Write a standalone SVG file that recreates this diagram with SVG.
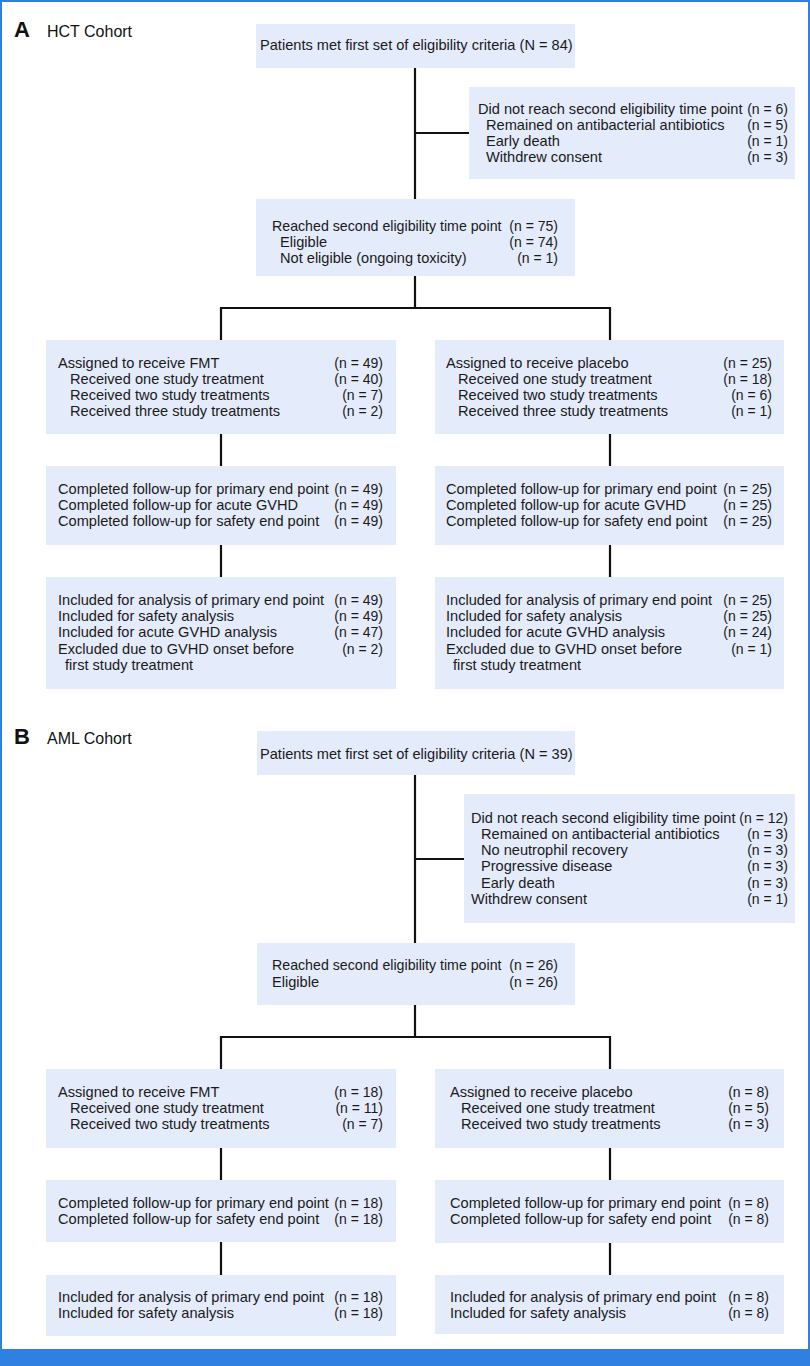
<svg xmlns="http://www.w3.org/2000/svg" width="810" height="1366" viewBox="0 0 810 1366">
<style>
.bg{fill:#ffffff}
.box{fill:#e4ebfa}
.t{font-family:"Liberation Sans",Arial,sans-serif;font-size:14.6px;fill:#1a1a1a}
.s{font-size:14.2px}
.r{text-anchor:end;font-size:14px}
.pl{font-family:"Liberation Sans",Arial,sans-serif;font-size:22px;font-weight:bold;fill:#111}
.pt{font-family:"Liberation Sans",Arial,sans-serif;font-size:16px;fill:#111}
.c{stroke:#111;stroke-width:2.2;fill:none}
</style>
<rect class="bg" x="0" y="0" width="810" height="1366"/>
<rect x="1" y="1" width="808" height="1350" fill="none" stroke="#2f80e0" stroke-width="2"/>
<rect x="0" y="1349" width="810" height="17" fill="#2f80e0"/>

<g id="panelA-label"><text class="pl" x="14" y="37">A</text><text class="pt" x="47" y="37">HCT Cohort</text></g>
<g id="panelB-label"><text class="pl" x="14" y="744">B</text><text class="pt" x="47" y="744">AML Cohort</text></g>

<g id="connectors">
<path class="c" d="M415 68V199M415 133H469M415 276V308M221 340V308H610V340M221 434V466M610 434V466M221 545V577M610 545V577"/>
<path class="c" d="M415 775V943M415 859H464M415 1005V1037M221 1069V1037H610V1069M221 1148V1180M610 1148V1180M221 1242V1275M610 1242V1275"/>
</g>

<g id="a-start"><rect class="box" x="256" y="24" width="319" height="44"/>
<text class="t" x="260" y="50">Patients met first set of eligibility criteria (N = 84)</text></g>

<g id="a-excluded"><rect class="box" x="469" y="87" width="326" height="92"/>
<text class="t" x="478" y="113.5">Did not reach second eligibility time point</text><text class="t r" x="788" y="113.5">(n = 6)</text>
<text class="t" x="486" y="129.5">Remained on antibacterial antibiotics</text><text class="t r" x="788" y="129.5">(n = 5)</text>
<text class="t" x="486" y="145.5">Early death</text><text class="t r" x="788" y="145.5">(n = 1)</text>
<text class="t" x="486" y="161.5">Withdrew consent</text><text class="t r" x="788" y="161.5">(n = 3)</text></g>

<g id="a-reached"><rect class="box" x="256" y="199" width="319" height="77"/>
<text class="t s" x="272" y="231">Reached second eligibility time point</text><text class="t r" x="558" y="231">(n = 75)</text>
<text class="t" x="280" y="247">Eligible</text><text class="t r" x="558" y="247">(n = 74)</text>
<text class="t" x="280" y="263">Not eligible (ongoing toxicity)</text><text class="t r" x="558" y="263">(n = 1)</text></g>

<g id="a-fmt"><rect class="box" x="46" y="340" width="350" height="94"/>
<text class="t" x="58" y="368">Assigned to receive FMT</text><text class="t r" x="383" y="368">(n = 49)</text>
<text class="t" x="70" y="384">Received one study treatment</text><text class="t r" x="383" y="384">(n = 40)</text>
<text class="t" x="70" y="400">Received two study treatments</text><text class="t r" x="383" y="400">(n = 7)</text>
<text class="t" x="70" y="416">Received three study treatments</text><text class="t r" x="383" y="416">(n = 2)</text></g>

<g id="a-placebo"><rect class="box" x="435" y="340" width="349" height="94"/>
<text class="t" x="446" y="368">Assigned to receive placebo</text><text class="t r" x="772" y="368">(n = 25)</text>
<text class="t" x="458" y="384">Received one study treatment</text><text class="t r" x="772" y="384">(n = 18)</text>
<text class="t" x="458" y="400">Received two study treatments</text><text class="t r" x="772" y="400">(n = 6)</text>
<text class="t" x="458" y="416">Received three study treatments</text><text class="t r" x="772" y="416">(n = 1)</text></g>

<g id="a-fmt-followup"><rect class="box" x="46" y="466" width="350" height="79"/>
<text class="t" x="58" y="494">Completed follow-up for primary end point</text><text class="t r" x="383" y="494">(n = 49)</text>
<text class="t" x="58" y="510">Completed follow-up for acute GVHD</text><text class="t r" x="383" y="510">(n = 49)</text>
<text class="t" x="58" y="526">Completed follow-up for safety end point</text><text class="t r" x="383" y="526">(n = 49)</text></g>

<g id="a-placebo-followup"><rect class="box" x="435" y="466" width="349" height="79"/>
<text class="t" x="446" y="494">Completed follow-up for primary end point</text><text class="t r" x="772" y="494">(n = 25)</text>
<text class="t" x="446" y="510">Completed follow-up for acute GVHD</text><text class="t r" x="772" y="510">(n = 25)</text>
<text class="t" x="446" y="526">Completed follow-up for safety end point</text><text class="t r" x="772" y="526">(n = 25)</text></g>

<g id="a-fmt-analysis"><rect class="box" x="46" y="577" width="350" height="112"/>
<text class="t" x="58" y="605">Included for analysis of primary end point</text><text class="t r" x="383" y="605">(n = 49)</text>
<text class="t" x="58" y="621">Included for safety analysis</text><text class="t r" x="383" y="621">(n = 49)</text>
<text class="t" x="58" y="637">Included for acute GVHD analysis</text><text class="t r" x="383" y="637">(n = 47)</text>
<text class="t" x="58" y="654">Excluded due to GVHD onset before</text><text class="t r" x="383" y="654">(n = 2)</text>
<text class="t" x="65" y="670">first study treatment</text></g>

<g id="a-placebo-analysis"><rect class="box" x="435" y="577" width="349" height="112"/>
<text class="t" x="446" y="605">Included for analysis of primary end point</text><text class="t r" x="772" y="605">(n = 25)</text>
<text class="t" x="446" y="621">Included for safety analysis</text><text class="t r" x="772" y="621">(n = 25)</text>
<text class="t" x="446" y="637">Included for acute GVHD analysis</text><text class="t r" x="772" y="637">(n = 24)</text>
<text class="t" x="446" y="654">Excluded due to GVHD onset before</text><text class="t r" x="772" y="654">(n = 1)</text>
<text class="t" x="453" y="670">first study treatment</text></g>

<g id="b-start"><rect class="box" x="257" y="731" width="318" height="44"/>
<text class="t" x="260" y="759">Patients met first set of eligibility criteria (N = 39)</text></g>

<g id="b-excluded"><rect class="box" x="464" y="794" width="331" height="129"/>
<text class="t" x="471" y="823">Did not reach second eligibility time point</text><text class="t r" x="788" y="823">(n = 12)</text>
<text class="t" x="481" y="839">Remained on antibacterial antibiotics</text><text class="t r" x="788" y="839">(n = 3)</text>
<text class="t" x="481" y="855">No neutrophil recovery</text><text class="t r" x="788" y="855">(n = 3)</text>
<text class="t" x="481" y="871">Progressive disease</text><text class="t r" x="788" y="871">(n = 3)</text>
<text class="t" x="481" y="888">Early death</text><text class="t r" x="788" y="888">(n = 3)</text>
<text class="t" x="471" y="904">Withdrew consent</text><text class="t r" x="788" y="904">(n = 1)</text></g>

<g id="b-reached"><rect class="box" x="257" y="943" width="318" height="62"/>
<text class="t s" x="272" y="970">Reached second eligibility time point</text><text class="t r" x="558" y="970">(n = 26)</text>
<text class="t" x="272" y="987">Eligible</text><text class="t r" x="558" y="987">(n = 26)</text></g>

<g id="b-fmt"><rect class="box" x="46" y="1069" width="350" height="79"/>
<text class="t" x="58" y="1097">Assigned to receive FMT</text><text class="t r" x="383" y="1097">(n = 18)</text>
<text class="t" x="70" y="1113">Received one study treatment</text><text class="t r" x="383" y="1113">(n = 11)</text>
<text class="t" x="70" y="1129">Received two study treatments</text><text class="t r" x="383" y="1129">(n = 7)</text></g>

<g id="b-placebo"><rect class="box" x="435" y="1069" width="349" height="79"/>
<text class="t" x="450" y="1097">Assigned to receive placebo</text><text class="t r" x="769" y="1097">(n = 8)</text>
<text class="t" x="461" y="1113">Received one study treatment</text><text class="t r" x="769" y="1113">(n = 5)</text>
<text class="t" x="461" y="1129">Received two study treatments</text><text class="t r" x="769" y="1129">(n = 3)</text></g>

<g id="b-fmt-followup"><rect class="box" x="46" y="1180" width="350" height="62"/>
<text class="t" x="58" y="1208">Completed follow-up for primary end point</text><text class="t r" x="383" y="1208">(n = 18)</text>
<text class="t" x="58" y="1224">Completed follow-up for safety end point</text><text class="t r" x="383" y="1224">(n = 18)</text></g>

<g id="b-placebo-followup"><rect class="box" x="435" y="1180" width="349" height="63"/>
<text class="t" x="450" y="1208">Completed follow-up for primary end point</text><text class="t r" x="769" y="1208">(n = 8)</text>
<text class="t" x="450" y="1224">Completed follow-up for safety end point</text><text class="t r" x="769" y="1224">(n = 8)</text></g>

<g id="b-fmt-analysis"><rect class="box" x="46" y="1275" width="350" height="61"/>
<text class="t" x="58" y="1302">Included for analysis of primary end point</text><text class="t r" x="383" y="1302">(n = 18)</text>
<text class="t" x="58" y="1318">Included for safety analysis</text><text class="t r" x="383" y="1318">(n = 18)</text></g>

<g id="b-placebo-analysis"><rect class="box" x="435" y="1275" width="349" height="59"/>
<text class="t" x="450" y="1302">Included for analysis of primary end point</text><text class="t r" x="769" y="1302">(n = 8)</text>
<text class="t" x="450" y="1318">Included for safety analysis</text><text class="t r" x="769" y="1318">(n = 8)</text></g>
</svg>
